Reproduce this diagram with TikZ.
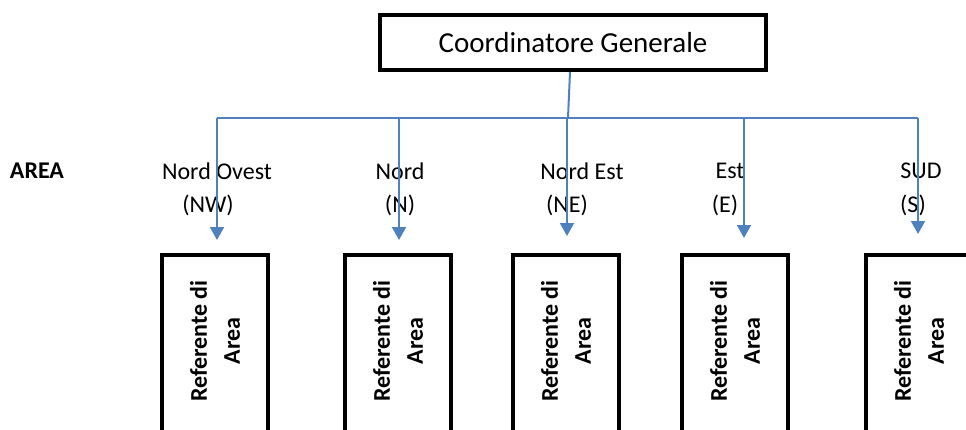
\documentclass[tikz,border=0pt]{standalone}
\usepackage{fontspec}
\setmainfont{Carlito}
\usetikzlibrary{arrows.meta}
\definecolor{linkblue}{HTML}{4F81BD}
\tikzset{
  capo/.style={draw,line width=4pt,rectangle,minimum width=386pt,minimum height=55pt,
    inner sep=0pt,font=\fontsize{29}{35}\selectfont},
  referente/.style={draw,line width=4pt,rectangle,minimum width=106pt,minimum height=192pt,inner sep=0pt},
  testo/.style={rotate=90,inner sep=0pt,align=center,font=\fontsize{24}{33}\selectfont\bfseries},
  etichetta/.style={inner sep=0pt,font=\fontsize{24}{29}\selectfont},
  freccia/.style={linkblue,line width=2pt,-{Triangle[width=14pt,length=13pt]}},
  linea/.style={linkblue,line width=2pt}
}
\begin{document}
\begin{tikzpicture}[x=1pt,y=-1pt]
\useasboundingbox (0,0) rectangle (966,429);
\node[capo](CG) at (573,42.5){Coordinatore Generale};
% bus
\coordinate(B0) at (568,118);
\coordinate(B1) at (217,118);
\coordinate(B2) at (399,118);
\coordinate(B3) at (567,118);
\coordinate(B4) at (744,118);
\coordinate(B5) at (918,118);
\draw[linea] ([xshift=-3pt]CG.south) -- (B0);
\draw[linea] (B1) -- (B5);
% area labels
\node[etichetta,font=\fontsize{24}{29}\selectfont\bfseries](AR) at (37,171){AREA};
\node[etichetta](L1) at (217,171){Nord Ovest};
\node[etichetta](S1) at (208,205){(NW)};
\node[etichetta](L2) at (400,171){Nord};
\node[etichetta](S2) at (400,205){(N)};
\node[etichetta](L3) at (582,171){Nord Est};
\node[etichetta](S3) at (567,205){(NE)};
\node[etichetta](L4) at (730,171){Est};
\node[etichetta](S4) at (725,205){(E)};
\node[etichetta](L5) at (921,171){SUD};
\node[etichetta](S5) at (913,205){(S)};
% boxes
\node[referente](R1) at (215,351){};
\node[referente](R2) at (398,351){};
\node[referente](R3) at (566,351){};
\node[referente](R4) at (735,351){};
\node[referente](R5) at (919,351){};
\foreach \i in {1,...,5}
  \node[testo] at ([yshift=10pt]R\i.center){Referente di\\Area};
% arrows
\coordinate(T1) at (217,240);
\coordinate(T2) at (399,240);
\coordinate(T3) at (567,236);
\coordinate(T4) at (744,238);
\coordinate(T5) at (918,234);
\foreach \i in {1,...,5}
  \draw[freccia] (B\i) -- (T\i);
\end{tikzpicture}
\end{document}
